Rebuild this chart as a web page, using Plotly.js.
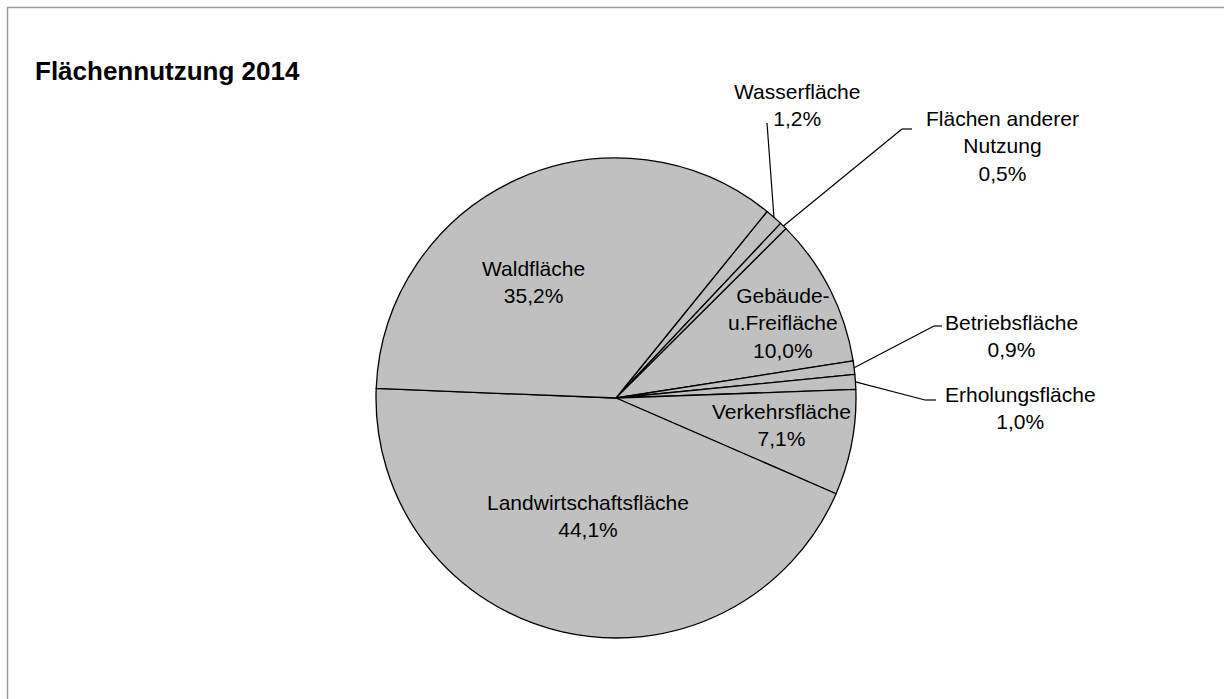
<!DOCTYPE html>
<html>
<head>
<meta charset="utf-8">
<script src="https://cdn.plot.ly/plotly-3.0.1.min.js"></script>
<style>html,body{margin:0;padding:0;background:#fff;}#chart{width:1224px;height:699px;}</style>
</head>
<body>
<div id="chart"></div>
<script>
// ---- data ----
const categories = ['Wasserfläche', 'Flächen anderer Nutzung', 'Gebäude- u.Freifläche', 'Betriebsfläche', 'Erholungsfläche', 'Verkehrsfläche', 'Landwirtschaftsfläche', 'Waldfläche'];
const values = [1.2, 0.5, 10.0, 0.9, 1.0, 7.1, 44.1, 35.2];
const labelLines = ['Wasserfläche', 'Flächen anderer<br>Nutzung', 'Gebäude-<br>u.Freifläche', 'Betriebsfläche', 'Erholungsfläche', 'Verkehrsfläche', 'Landwirtschaftsfläche', 'Waldfläche'];
const chartTitle = 'Flächennutzung 2014';

// ---- layout (pixel positions) ----
const W = 1224, H = 699;
const cx = 616, cy = 398, R = 240, ROT = 39;
const labelPos = [[797,105],[1002,146],[783,323],[1012,336],[1020,408],[782,425],[588,516],[533,282]];
// leader line path points after the slice-edge anchor (null = inside label)
const leaderPts = [[[767,123]], [[902,129],[912,129]], null, [[934,326],[942,326]], [[925,400],[936,400]], null, null, null];
const FONT = 'Liberation Sans, Arial, sans-serif';
const LABEL_SIZE = 21;

const px = x => x / W;
const py = y => 1 - y / H;

const total = values.reduce((a, b) => a + b, 0);
const fmt = v => v.toFixed(1).replace('.', ',') + '%';

const annotations = [];
const shapes = [];

// frame
shapes.push({type:'rect', xref:'paper', yref:'paper', x0:px(7.5), y0:py(710), x1:px(1240), y1:py(7.5),
  line:{color:'#9a9a9a', width:1.5}, fillcolor:'rgba(0,0,0,0)', layer:'below'});

annotations.push({xref:'paper', yref:'paper', x:px(33), y:py(71), xanchor:'left', yanchor:'middle',
  text:'<b>' + chartTitle + '</b>', showarrow:false, font:{family:FONT, size:26, color:'#000'}});

let cum = 0;
values.forEach((v, i) => {
  const mid = (ROT + (cum + v / 2) / total * 360) * Math.PI / 180;
  cum += v;
  annotations.push({xref:'paper', yref:'paper', x:px(labelPos[i][0]), y:py(labelPos[i][1]),
    xanchor:'center', yanchor:'middle', align:'center', showarrow:false,
    text: labelLines[i] + '<br>' + fmt(v), font:{family:FONT, size:LABEL_SIZE, color:'#000'}});
  if (leaderPts[i]) {
    let prev = [cx + R * Math.sin(mid), cy - R * Math.cos(mid)];
    leaderPts[i].forEach(p => {
      shapes.push({type:'line', xref:'paper', yref:'paper', x0:px(prev[0]), y0:py(prev[1]), x1:px(p[0]), y1:py(p[1]),
        line:{color:'#000', width:1.2}});
      prev = p;
    });
  }
});

const trace = {
  type:'pie', labels:categories, values:values, sort:false, direction:'clockwise', rotation:ROT,
  textinfo:'none', hoverinfo:'label+percent',
  marker:{colors:categories.map(() => '#c0c0c0'), line:{color:'#000', width:1.3}},
  domain:{x:[px(cx - R), px(cx + R)], y:[py(cy + R), py(cy - R)]}
};

const layout = {
  width:W, height:H, margin:{l:0, r:0, t:0, b:0},
  paper_bgcolor:'#fff', plot_bgcolor:'#fff', showlegend:false,
  annotations:annotations, shapes:shapes,
  font:{family:FONT}
};

Plotly.newPlot('chart', [trace], layout, {staticPlot:true, displayModeBar:false});
</script>
</body>
</html>
